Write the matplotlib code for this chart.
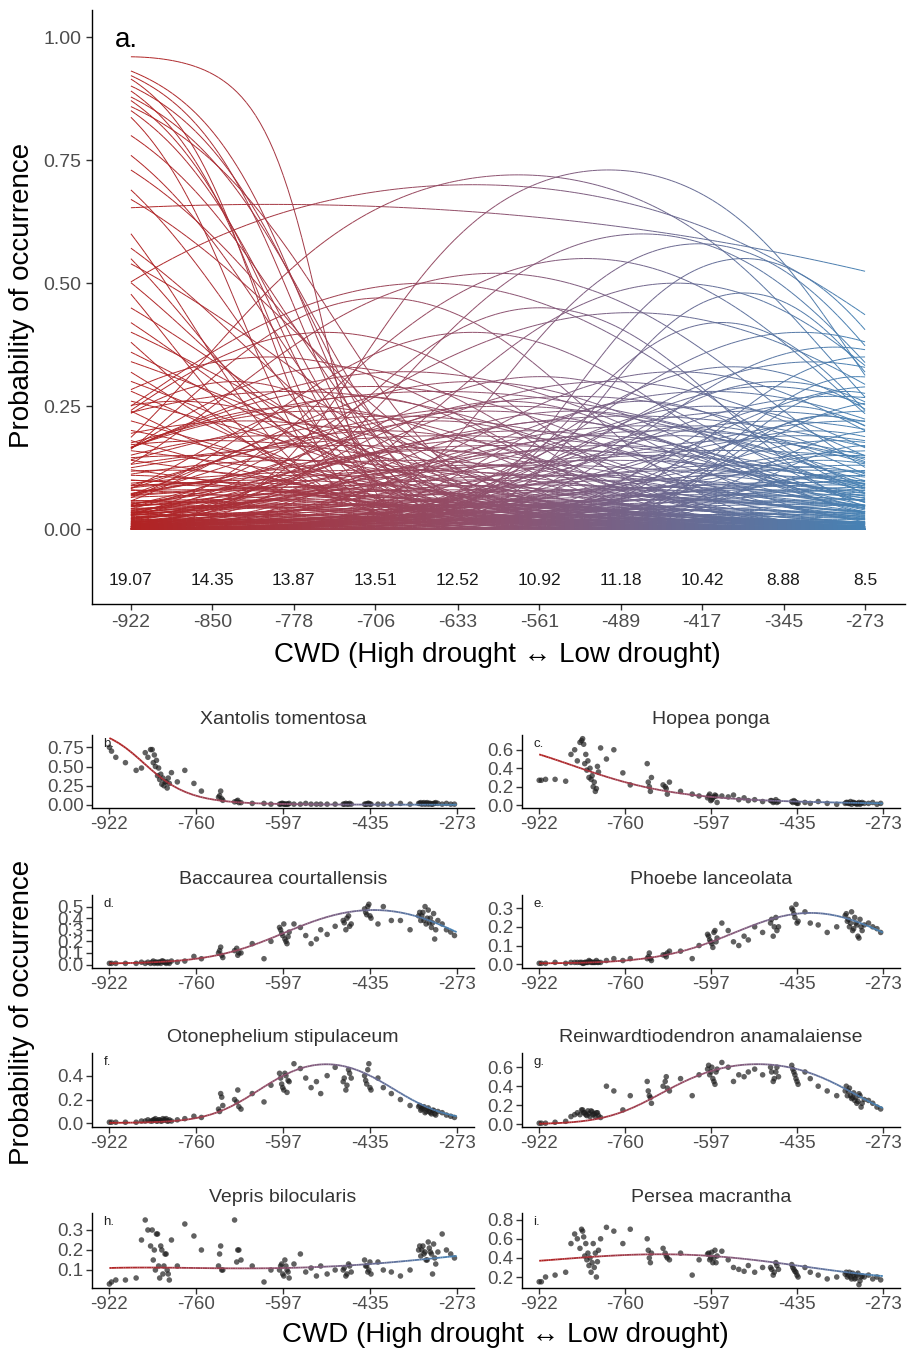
import numpy as np
import matplotlib
matplotlib.use("Agg")
import matplotlib.pyplot as plt
from matplotlib.collections import LineCollection
from matplotlib.colors import LinearSegmentedColormap, Normalize

plt.rcParams['font.family'] = ['Liberation Sans', 'DejaVu Sans']

# ---------------- panel a: species response curves ----------------
top_ticks = [-922, -850, -778, -706, -633, -561, -489, -417, -345, -273]
richness = ["19.07", "14.35", "13.87", "13.51", "12.52", "10.92", "11.18", "10.42", "8.88", "8.5"]

# each curve: optimum CWD, peak probability, tolerance (CWD units)
# dry specialists, declining from the left (optimum beyond the sampled range)
dry_opt = [-925, -1200, -1200, -1200, -1200, -1200, -1200, -1200, -1200, -1200, -1200,
           -1200, -1200, -1200, -1200, -1200, -1200, -1200, -1200, -1200, -1200,
           -1200, -1200, -1200, -1200, -1200, -1200, -1200, -1200, -1200, -1200,
           -1200, -1200, -1200, -1200, -1200, -1200, -1200, -1200, -1200, -1200]
dry_pmax = [0.96, 0.990, 0.989, 0.993, 0.980, 0.987, 0.970, 0.979, 0.954, 0.969, 0.981,
            0.938, 0.926, 0.884, 0.900, 0.825, 0.895, 0.774, 0.822, 0.698, 0.739,
            0.808, 0.637, 0.632, 0.553, 0.670, 0.525, 0.458, 0.534, 0.431, 0.438,
            0.344, 0.423, 0.321, 0.271, 0.283, 0.201, 0.189, 0.171, 0.120, 0.100]
dry_tol = [92, 197, 195, 173, 214, 186, 227, 200, 251, 213, 183,
           241, 237, 273, 235, 303, 211, 286, 241, 337, 273,
           225, 318, 299, 354, 254, 338, 396, 294, 369, 334,
           440, 303, 387, 444, 363, 524, 464, 436, 615, 565]

# broad / high humps in the middle of the gradient
hump_opt = [-500, -580, -620, -800, -470, -420, -520, -600, -380, -660,
            -440, -380, -700, -560, -480, -400, -620, -330, -750]
hump_pmax = [0.73, 0.72, 0.70, 0.66, 0.60, 0.58, 0.55, 0.52, 0.55, 0.50,
             0.50, 0.48, 0.47, 0.45, 0.44, 0.42, 0.40, 0.40, 0.40]
hump_tol = [170, 220, 330, 700, 190, 160, 210, 230, 140, 250,
            200, 130, 180, 170, 260, 140, 200, 200, 200]

# wet specialists, peaking near the low-drought end
wet_opt = [-300, -273, -320, -280, -350, -260, -290, -300, -250, -340, -270, -310,
           -280, -260, -330, -300, -270, -250, -290, -310, -280, -260, -300, -240]
wet_pmax = [0.37, 0.35, 0.34, 0.31, 0.30, 0.29, 0.28, 0.27, 0.26, 0.25, 0.24, 0.23,
            0.22, 0.20, 0.19, 0.18, 0.17, 0.16, 0.15, 0.14, 0.13, 0.12, 0.11, 0.10]
wet_tol = [180, 150, 210, 130, 170, 200, 120, 240, 160, 140, 190, 110,
           260, 140, 220, 170, 120, 300, 200, 150, 250, 180, 130, 350]

# moderate humps
mid_opt = [-800, -740, -680, -620, -560, -500, -440, -390, -780, -720, -650,
           -590, -530, -470, -410, -360, -760, -690, -610, -545, -480, -420,
           -370, -820, -700, -640, -575, -510, -450, -390, -850, -730, -660,
           -600, -540, -460, -400, -780, -620, -500, -430, -700, -560,
           -880, -830, -770, -710, -650, -590, -530, -470, -410, -350,
           -860, -800, -740, -680, -620, -560, -500, -440, -380, -320]
mid_pmax = [0.35, 0.33, 0.32, 0.30, 0.31, 0.30, 0.32, 0.33, 0.28, 0.27, 0.28,
            0.26, 0.27, 0.26, 0.28, 0.29, 0.24, 0.23, 0.24, 0.22, 0.23, 0.21,
            0.24, 0.22, 0.20, 0.19, 0.20, 0.19, 0.20, 0.18, 0.18, 0.17, 0.16,
            0.17, 0.16, 0.15, 0.16, 0.14, 0.13, 0.14, 0.12, 0.12, 0.11,
            0.26, 0.30, 0.25, 0.29, 0.22, 0.25, 0.24, 0.21, 0.25, 0.22,
            0.15, 0.19, 0.21, 0.14, 0.18, 0.13, 0.17, 0.19, 0.13, 0.20]
mid_tol = [220, 190, 260, 230, 200, 240, 210, 180, 300, 170, 350,
           180, 280, 160, 250, 200, 240, 300, 260, 190, 330, 170,
           280, 260, 220, 400, 240, 200, 300, 220, 300, 350, 200,
           320, 260, 230, 380, 280, 260, 350, 240, 420, 300,
           200, 160, 210, 250, 180, 300, 220, 270, 190, 240,
           320, 230, 150, 280, 200, 360, 260, 180, 300, 170]

# rare species with low probabilities everywhere
rare_opt = [-950, -900, -870, -840, -810, -780, -750, -720, -690, -660, -630, -600,
            -570, -540, -510, -480, -450, -420, -390, -360, -330, -300, -270, -240,
            -980, -920, -880, -820, -760, -700, -640, -580, -520, -460, -400, -340,
            -280, -220, -960, -860, -740, -620, -500, -380, -260, -900, -700, -500,
            -300, -1000,
            -940, -890, -850, -800, -760, -710, -670, -620, -560, -520, -470, -430,
            -380, -330, -290, -250, -850, -650, -450, -250]
rare_pmax = [0.10, 0.09, 0.08, 0.095, 0.07, 0.085, 0.06, 0.08, 0.09, 0.07, 0.08, 0.06,
             0.09, 0.07, 0.08, 0.06, 0.085, 0.07, 0.09, 0.08, 0.095, 0.09, 0.085, 0.08,
             0.06, 0.05, 0.055, 0.045, 0.05, 0.04, 0.05, 0.045, 0.05, 0.04, 0.055, 0.05,
             0.06, 0.05, 0.035, 0.03, 0.03, 0.025, 0.03, 0.03, 0.035, 0.02, 0.02, 0.02,
             0.02, 0.03,
             0.11, 0.12, 0.06, 0.10, 0.11, 0.05, 0.12, 0.10, 0.05, 0.11, 0.10, 0.06,
             0.11, 0.12, 0.07, 0.11, 0.015, 0.015, 0.015, 0.015]
rare_tol = [300, 250, 350, 280, 400, 300, 350, 260, 420, 300, 380, 260,
            340, 300, 400, 280, 320, 360, 300, 280, 350, 300, 260, 400,
            350, 300, 400, 320, 380, 300, 420, 350, 300, 380, 340, 300,
            320, 400, 400, 350, 450, 400, 380, 420, 350, 450, 500, 450,
            500, 500,
            260, 220, 300, 280, 240, 350, 260, 300, 400, 260, 300, 330,
            250, 270, 300, 280, 500, 500, 500, 500]

# ---------------- panels b-i: single species ----------------
site_cwd = [-922, -910, -892, -872, -862, -855,
            -842, -838, -834, -830, -826, -822, -818, -814, -810, -806,
            -795, -781, -764, -750,
            -718, -714, -710,
            -688, -682, -676,
            -655, -633, -620,
            -602, -598, -594, -590, -586,
            -577, -565, -555, -545, -535, -527, -515, -500,
            -485, -480, -475, -470,
            -445, -441, -437, -433,
            -420, -410, -395, -378, -360,
            -342, -338, -334, -330, -326, -322, -318, -314,
            -300, -292, -284, -277]
# second plot at the most sampled sites
site_cwd2 = [-918, -850, -845, -840, -836, -832, -828, -824, -820, -816, -812,
             -716, -712, -684, -680,
             -604, -600, -596, -592, -588,
             -483, -478, -473,
             -443, -439, -435,
             -344, -340, -336, -332, -328, -324, -320, -316, -312, -308]

species = ["Xantolis tomentosa", "Hopea ponga", "Baccaurea courtallensis", "Phoebe lanceolata",
           "Otonephelium stipulaceum", "Reinwardtiodendron anamalaiense", "Vepris bilocularis",
           "Persea macrantha"]
letters = ["b.", "c.", "d.", "e.", "f.", "g.", "h.", "i."]

site_prob = [
    # Xantolis tomentosa
    [0.75, 0.62, 0.55, 0.45, 0.48, 0.68,
     0.72, 0.65, 0.58, 0.48, 0.40, 0.35, 0.30, 0.22, 0.28, 0.42,
     0.30, 0.45, 0.28, 0.18, 0.10, 0.18, 0.06, 0.04, 0.06, 0.03, 0.02, 0.02, 0.01,
     0.01, 0.02, 0.01, 0.01, 0.02, 0.01, 0.01, 0.02, 0.01, 0.01, 0.01, 0.01, 0.01,
     0.01, 0.02, 0.01, 0.01, 0.01, 0.01, 0.02, 0.01, 0.01, 0.01, 0.01, 0.02, 0.01,
     0.02, 0.01, 0.03, 0.02, 0.01, 0.02, 0.01, 0.02, 0.01, 0.02, 0.01, 0.01],
    # Hopea ponga
    [0.27, 0.28, 0.28, 0.26, 0.55, 0.60,
     0.70, 0.66, 0.55, 0.48, 0.40, 0.32, 0.25, 0.18, 0.36, 0.62,
     0.50, 0.60, 0.35, 0.22, 0.45, 0.20, 0.30, 0.22, 0.18, 0.25, 0.15, 0.12, 0.10,
     0.10, 0.05, 0.08, 0.11, 0.03, 0.10, 0.09, 0.11, 0.06, 0.08, 0.05, 0.06, 0.04,
     0.05, 0.03, 0.06, 0.04, 0.04, 0.05, 0.03, 0.02, 0.03, 0.02, 0.04, 0.02, 0.01,
     0.03, 0.02, 0.04, 0.03, 0.02, 0.01, 0.03, 0.02, 0.02, 0.03, 0.01, 0.02],
    # Baccaurea courtallensis
    [0.01, 0.01, 0.01, 0.01, 0.02, 0.01,
     0.02, 0.01, 0.02, 0.02, 0.01, 0.03, 0.02, 0.02, 0.01, 0.03,
     0.02, 0.03, 0.07, 0.05, 0.10, 0.15, 0.06, 0.12, 0.08, 0.10, 0.18, 0.05, 0.20,
     0.30, 0.25, 0.22, 0.18, 0.28, 0.35, 0.32, 0.25, 0.18, 0.22, 0.30, 0.26, 0.33,
     0.38, 0.30, 0.42, 0.35, 0.48, 0.43, 0.52, 0.40, 0.35, 0.50, 0.38, 0.38, 0.30,
     0.45, 0.42, 0.38, 0.35, 0.47, 0.40, 0.36, 0.22, 0.35, 0.30, 0.28, 0.25],
    # Phoebe lanceolata
    [0.005, 0.005, 0.01, 0.005, 0.01, 0.01,
     0.01, 0.005, 0.01, 0.01, 0.015, 0.01, 0.01, 0.02, 0.01, 0.01,
     0.02, 0.03, 0.02, 0.03, 0.03, 0.06, 0.02, 0.05, 0.04, 0.07, 0.07, 0.03, 0.10,
     0.15, 0.12, 0.09, 0.18, 0.14, 0.22, 0.18, 0.12, 0.10, 0.15, 0.13, 0.20, 0.17,
     0.22, 0.15, 0.25, 0.20, 0.30, 0.27, 0.32, 0.23, 0.28, 0.22, 0.21, 0.17, 0.20,
     0.27, 0.24, 0.22, 0.18, 0.25, 0.21, 0.14, 0.20, 0.22, 0.20, 0.19, 0.17],
    # Otonephelium stipulaceum
    [0.01, 0.01, 0.01, 0.01, 0.02, 0.02,
     0.02, 0.03, 0.02, 0.03, 0.02, 0.04, 0.03, 0.02, 0.03, 0.02,
     0.03, 0.04, 0.06, 0.05, 0.12, 0.25, 0.15, 0.20, 0.28, 0.12, 0.25, 0.18, 0.32,
     0.38, 0.30, 0.42, 0.26, 0.35, 0.50, 0.46, 0.38, 0.30, 0.35, 0.25, 0.40, 0.47,
     0.35, 0.28, 0.45, 0.38, 0.40, 0.33, 0.50, 0.28, 0.38, 0.30, 0.25, 0.20, 0.15,
     0.15, 0.12, 0.14, 0.10, 0.13, 0.09, 0.11, 0.08, 0.09, 0.07, 0.06, 0.05],
    # Reinwardtiodendron anamalaiense
    [0.01, 0.01, 0.02, 0.03, 0.08, 0.10,
     0.15, 0.12, 0.10, 0.14, 0.08, 0.13, 0.11, 0.12, 0.09, 0.07,
     0.40, 0.35, 0.15, 0.30, 0.45, 0.30, 0.22, 0.40, 0.50, 0.35, 0.48, 0.30, 0.52,
     0.62, 0.55, 0.48, 0.42, 0.58, 0.65, 0.60, 0.45, 0.52, 0.50, 0.55, 0.58, 0.52,
     0.60, 0.45, 0.55, 0.50, 0.62, 0.55, 0.48, 0.42, 0.55, 0.48, 0.40, 0.35, 0.30,
     0.40, 0.35, 0.30, 0.28, 0.25, 0.22, 0.32, 0.18, 0.25, 0.22, 0.18, 0.16],
    # Vepris bilocularis
    [0.03, 0.05, 0.05, 0.06, 0.25, 0.35,
     0.30, 0.20, 0.28, 0.12, 0.22, 0.08, 0.18, 0.10, 0.05, 0.25,
     0.12, 0.33, 0.27, 0.20, 0.12, 0.22, 0.10, 0.35, 0.20, 0.15, 0.12, 0.04, 0.10,
     0.12, 0.08, 0.15, 0.10, 0.06, 0.13, 0.18, 0.09, 0.11, 0.07, 0.12, 0.08, 0.10,
     0.10, 0.07, 0.13, 0.09, 0.15, 0.12, 0.10, 0.08, 0.14, 0.10, 0.09, 0.07, 0.10,
     0.22, 0.20, 0.18, 0.15, 0.24, 0.19, 0.08, 0.16, 0.28, 0.20, 0.18, 0.16],
    # Persea macrantha
    [0.15, 0.20, 0.22, 0.25, 0.55, 0.65,
     0.70, 0.62, 0.55, 0.45, 0.40, 0.35, 0.30, 0.20, 0.48, 0.60,
     0.72, 0.68, 0.55, 0.70, 0.60, 0.40, 0.45, 0.50, 0.42, 0.38, 0.45, 0.22, 0.38,
     0.45, 0.40, 0.35, 0.48, 0.42, 0.47, 0.38, 0.30, 0.28, 0.26, 0.32, 0.25, 0.30,
     0.30, 0.22, 0.35, 0.28, 0.33, 0.28, 0.25, 0.20, 0.30, 0.25, 0.22, 0.18, 0.20,
     0.25, 0.22, 0.20, 0.24, 0.18, 0.22, 0.12, 0.20, 0.22, 0.18, 0.20, 0.17],
]

site_prob2 = [
    [0.70, 0.62, 0.72, 0.55, 0.50, 0.38, 0.33, 0.27, 0.25, 0.30, 0.35,
     0.12, 0.08, 0.05, 0.03, 0.01, 0.02, 0.01, 0.01, 0.01, 0.01, 0.01, 0.02,
     0.01, 0.02, 0.01, 0.02, 0.03, 0.02, 0.01, 0.03, 0.02, 0.01, 0.02, 0.03, 0.02],
    [0.27, 0.48, 0.68, 0.72, 0.45, 0.38, 0.30, 0.28, 0.20, 0.15, 0.42,
     0.25, 0.15, 0.20, 0.12, 0.08, 0.12, 0.06, 0.09, 0.10, 0.05, 0.04, 0.03,
     0.03, 0.04, 0.02, 0.02, 0.03, 0.02, 0.01, 0.03, 0.02, 0.02, 0.01, 0.03, 0.02],
    [0.01, 0.02, 0.01, 0.03, 0.02, 0.01, 0.02, 0.03, 0.02, 0.01, 0.02,
     0.12, 0.08, 0.14, 0.10, 0.32, 0.27, 0.35, 0.20, 0.24, 0.36, 0.40, 0.33,
     0.45, 0.50, 0.42, 0.42, 0.38, 0.45, 0.50, 0.40, 0.36, 0.32, 0.44, 0.30, 0.38],
    [0.005, 0.01, 0.01, 0.005, 0.01, 0.01, 0.02, 0.01, 0.01, 0.01, 0.01,
     0.04, 0.03, 0.05, 0.06, 0.16, 0.13, 0.11, 0.17, 0.12, 0.24, 0.20, 0.18,
     0.29, 0.25, 0.22, 0.26, 0.23, 0.20, 0.28, 0.19, 0.22, 0.15, 0.24, 0.18, 0.21],
    [0.01, 0.03, 0.02, 0.03, 0.04, 0.02, 0.03, 0.02, 0.03, 0.04, 0.02,
     0.10, 0.22, 0.18, 0.14, 0.42, 0.33, 0.28, 0.40, 0.36, 0.38, 0.32, 0.42,
     0.36, 0.45, 0.30, 0.14, 0.11, 0.13, 0.09, 0.12, 0.10, 0.08, 0.11, 0.07, 0.10],
    [0.01, 0.12, 0.10, 0.15, 0.12, 0.09, 0.11, 0.14, 0.10, 0.08, 0.12,
     0.35, 0.28, 0.45, 0.38, 0.58, 0.52, 0.60, 0.45, 0.55, 0.55, 0.48, 0.60,
     0.58, 0.52, 0.45, 0.35, 0.30, 0.38, 0.27, 0.33, 0.28, 0.24, 0.30, 0.22, 0.26],
    [0.04, 0.30, 0.22, 0.15, 0.10, 0.28, 0.06, 0.20, 0.12, 0.18, 0.08,
     0.18, 0.10, 0.14, 0.20, 0.10, 0.13, 0.07, 0.12, 0.09, 0.11, 0.08, 0.12,
     0.12, 0.09, 0.14, 0.20, 0.17, 0.22, 0.19, 0.15, 0.21, 0.18, 0.23, 0.13, 0.19],
    [0.15, 0.60, 0.50, 0.68, 0.42, 0.38, 0.32, 0.25, 0.55, 0.45, 0.36,
     0.48, 0.35, 0.45, 0.40, 0.44, 0.38, 0.46, 0.40, 0.35, 0.28, 0.25, 0.32,
     0.30, 0.26, 0.22, 0.23, 0.20, 0.25, 0.18, 0.22, 0.19, 0.24, 0.16, 0.21, 0.20],
]

# fitted probability read at -922, -760, -597, -435, -273
fit_cwd = [-922, -760, -597, -435, -273]
fit_prob = [
    [0.87, 0.12, 0.012, 0.004, 0.003],
    [0.55, 0.25, 0.09, 0.04, 0.02],
    [0.01, 0.05, 0.27, 0.47, 0.28],
    [0.005, 0.02, 0.12, 0.27, 0.17],
    [0.005, 0.045, 0.40, 0.40, 0.06],
    [0.005, 0.14, 0.56, 0.58, 0.17],
    [0.11, 0.11, 0.11, 0.13, 0.17],
    [0.37, 0.43, 0.42, 0.32, 0.21],
]
y_ticks = [[0, 0.25, 0.5, 0.75], [0, 0.2, 0.4, 0.6], [0, 0.1, 0.2, 0.3, 0.4, 0.5],
           [0, 0.1, 0.2, 0.3], [0, 0.2, 0.4], [0, 0.2, 0.4, 0.6], [0.1, 0.2, 0.3],
           [0.2, 0.4, 0.6, 0.8]]
y_ticklabels = [["0.00", "0.25", "0.50", "0.75"], ["0.0", "0.2", "0.4", "0.6"],
                ["0.0", "0.1", "0.2", "0.3", "0.4", "0.5"], ["0.0", "0.1", "0.2", "0.3"],
                ["0.0", "0.2", "0.4"], ["0.0", "0.2", "0.4", "0.6"], ["0.1", "0.2", "0.3"],
                ["0.2", "0.4", "0.6", "0.8"]]
y_lims = [(-0.04, 0.91), (-0.03, 0.76), (-0.03, 0.6), (-0.02, 0.37), (-0.03, 0.59),
          (-0.03, 0.75), (0.01, 0.385), (0.085, 0.87)]
small_ticks = [-922, -760, -597, -435, -273]

cmap = LinearSegmentedColormap.from_list("drought", ["#B22222", "#8E5270", "#4682B4"])
norm = Normalize(-922, -273)
tick_color = "#4D4D4D"


def response(x, opt, pmax, tol):
    eta = np.log(pmax / (1 - pmax)) - ((x - opt) / tol) ** 2
    return 1 / (1 + np.exp(-eta))


def segments(x, y):
    pts = np.column_stack([x, y]).reshape(-1, 1, 2)
    return np.concatenate([pts[:-1], pts[1:]], axis=1)


def style_axis(ax, size):
    for s in ["top", "right"]:
        ax.spines[s].set_visible(False)
    for s in ["left", "bottom"]:
        ax.spines[s].set_linewidth(1.0)
    ax.tick_params(labelsize=size, length=4, width=1.0, labelcolor=tick_color, color="#333333")


fig = plt.figure(figsize=(9.07, 13.5), dpi=100)

# panel a
ax = fig.add_axes([92 / 907, 1 - 604 / 1350, 813 / 907, 594 / 1350])
xs = np.linspace(-922, -273, 160)
xmid = (xs[:-1] + xs[1:]) / 2
all_opt = dry_opt + hump_opt + wet_opt + mid_opt + rare_opt
all_pmax = dry_pmax + hump_pmax + wet_pmax + mid_pmax + rare_pmax
all_tol = dry_tol + hump_tol + wet_tol + mid_tol + rare_tol
segs = []
cvals = []
for o, p, t in zip(all_opt, all_pmax, all_tol):
    segs.append(segments(xs, response(xs, o, p, t)))
    cvals.append(xmid)
lc = LineCollection(np.concatenate(segs), cmap=cmap, norm=norm, linewidth=0.7)
lc.set_array(np.concatenate(cvals))
ax.add_collection(lc)
for xt, lab in zip(top_ticks, richness):
    ax.text(xt, -0.104, lab, ha="center", va="center", fontsize=12.5, color="#1a1a1a")
ax.text(-936, 0.994, "a.", fontsize=20, ha="left", va="center")
ax.set_xlim(-956.4, -237.7)
ax.set_ylim(-0.152, 1.055)
ax.set_xticks(top_ticks)
ax.set_xticklabels([str(t) for t in top_ticks])
ax.set_yticks([0, 0.25, 0.5, 0.75, 1.0])
ax.set_yticklabels(["0.00", "0.25", "0.50", "0.75", "1.00"])
style_axis(ax, 14)
fig.text(497 / 907, 1 - 655 / 1350, "CWD (High drought \u2194 Low drought)", fontsize=20,
         ha="center", va="center")
fig.text(22 / 907, 1 - 295 / 1350, "Probability of occurrence", fontsize=20, rotation=90,
         ha="center", va="center")

# panels b-i
row_bottom_px = [808, 968, 1127, 1288]
row_height_px = [73, 73, 74, 75]
col_left_px = [92, 522]
col_width_px = [382, 378]
u5 = (np.array(fit_cwd) + 597.5) / 324.5
xf = np.linspace(-922, -273, 150)
uf = (xf + 597.5) / 324.5
for i in range(8):
    r, c = divmod(i, 2)
    axs = fig.add_axes([col_left_px[c] / 907, 1 - row_bottom_px[r] / 1350,
                        col_width_px[c] / 907, row_height_px[r] / 1350])
    axs.scatter(site_cwd, site_prob[i], s=16, color="#1e1e1e", alpha=0.7,
                edgecolors="none", zorder=2)
    axs.scatter(site_cwd2, site_prob2[i], s=16, color="#1e1e1e", alpha=0.7,
                edgecolors="none", zorder=2)
    fp = np.array(fit_prob[i])
    coef = np.polyfit(u5, np.log(fp / (1 - fp)), 4)
    yf = 1 / (1 + np.exp(-np.polyval(coef, uf)))
    lc2 = LineCollection(segments(xf, yf), cmap=cmap, norm=norm, linewidth=1.3, zorder=3)
    lc2.set_array((xf[:-1] + xf[1:]) / 2)
    axs.add_collection(lc2)
    axs.set_xlim(-954.5, -240.5)
    axs.set_ylim(*y_lims[i])
    axs.set_xticks(small_ticks)
    axs.set_xticklabels([str(t) for t in small_ticks])
    axs.set_yticks(y_ticks[i])
    axs.set_yticklabels(y_ticklabels[i])
    style_axis(axs, 13.5)
    axs.tick_params(pad=2)
    axs.set_title(species[i], fontsize=14, color="#333333", pad=8)
    axs.text(0.03, 0.88, letters[i], transform=axs.transAxes, fontsize=9.5,
             ha="left", va="center", color="#222222")

fig.text(505 / 907, 1 - 1335 / 1350, "CWD (High drought \u2194 Low drought)", fontsize=20,
         ha="center", va="center")
fig.text(22 / 907, 1 - 1012 / 1350, "Probability of occurrence", fontsize=20, rotation=90,
         ha="center", va="center")

fig.savefig("out.png", dpi=100)
